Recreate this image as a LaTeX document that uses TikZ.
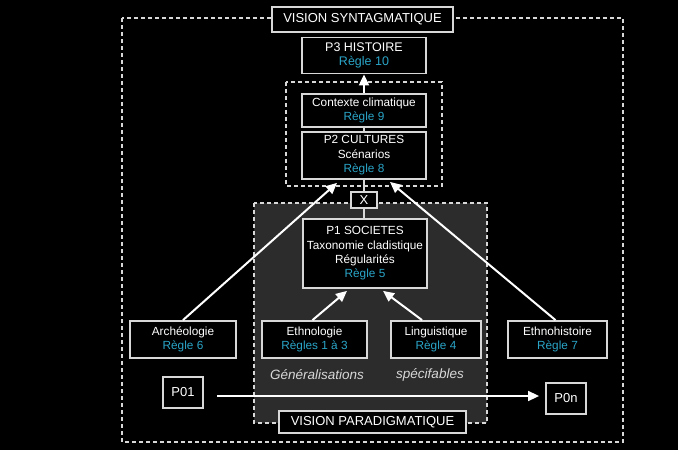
\documentclass[tikz,border=0pt]{standalone}
\usepackage{fontspec}
\setmainfont{Liberation Sans}
\usetikzlibrary{arrows.meta}
\definecolor{rulec}{HTML}{2AA5C8}
\definecolor{edgec}{HTML}{D8D8D8}
\definecolor{grayreg}{HTML}{2C2C2C}
\newcommand{\rg}[1]{\textcolor{rulec}{#1}}
\tikzset{
  box/.style={draw=edgec, line width=1.8pt, fill=black, text=white, align=center,
    inner sep=0pt, font=\fontsize{11.8}{14.4}\selectfont},
  title/.style={box, font=\fontsize{13}{15}\selectfont},
  dashbox/.style={draw=edgec, line width=1.5pt, dash pattern=on 4pt off 3pt},
  arr/.style={draw=white, line width=2pt, -{Triangle[length=11pt,width=10pt]}},
  link/.style={draw=edgec, line width=1.8pt},
  note/.style={text=edgec, font=\fontsize{13.5}{15}\selectfont\itshape}
}
\begin{document}
\begin{tikzpicture}[x=1pt,y=-1pt]
\useasboundingbox (0,0) rectangle (678,450);
\fill[black] (0,0) rectangle (678,450);
% outer dashed frame
\draw[dashbox] (122,18) rectangle (623,442);
% paradigmatic region
\filldraw[dashbox, fill=grayreg] (254,203) rectangle (487,423);
% dashed box around context + P2
\draw[dashbox] (286,82) rectangle (442,186);

% nodes
\node[title, minimum width=181pt, minimum height=25pt] (vs) at (362.5,19.5) {VISION SYNTAGMATIQUE};
\node[box, minimum width=124pt, minimum height=36pt, font=\fontsize{12.5}{14.6}\selectfont] (p3) at (364,55.5) {P3 HISTOIRE\\\rg{Règle 10}};
\node[box, minimum width=124pt, minimum height=33pt] (ctx) at (364,110.5) {Contexte climatique\\\rg{Règle 9}};
\node[box, minimum width=124pt, minimum height=47pt] (p2) at (364,155.5) {P2 CULTURES\\Scénarios\\\rg{Règle 8}};
\node[title, minimum width=26pt, minimum height=16pt] (x) at (364,200) {X};
\node[box, minimum width=124pt, minimum height=69pt] (p1) at (365,253.5) {P1 SOCIETES\\Taxonomie cladistique\\Régularités\\\rg{Règle 5}};
\node[box, minimum width=106pt, minimum height=37pt] (arch) at (183,339.5) {Archéologie\\\rg{Règle 6}};
\node[box, minimum width=105pt, minimum height=37pt] (ethno) at (314.5,339.5) {Ethnologie\\\rg{Règles 1 à 3}};
\node[box, minimum width=90pt, minimum height=37pt] (ling) at (436,339.5) {Linguistique\\\rg{Règle 4}};
\node[box, minimum width=99pt, minimum height=37pt] (ethh) at (557.5,339.5) {Ethnohistoire\\\rg{Règle 7}};
\node[title, minimum width=40pt, minimum height=31pt] (p01) at (183,392.5) {P01};
\node[title, minimum width=40pt, minimum height=31pt] (p0n) at (566,398.5) {P0n};
\node[title, minimum width=187pt, minimum height=22pt] (vp) at (372.5,422) {VISION PARADIGMATIQUE};
\node[note] (gen) at (317,375) {Généralisations};
\node[note] (spec) at (430,375) {spécifables};

% connectors
\draw[arr] (ctx.north) -- (p3.south);
\draw[link] (ctx.south) -- (p2.north);
\draw[link] (p2.south) -- (x.north);
\draw[link] (x.south) -- ([xshift=-1pt]p1.north);
\draw[arr] (arch.north) -- ([xshift=-27pt,yshift=-3pt]p2.south);
\draw[arr] ([xshift=-2pt]ethh.north) -- ([xshift=26pt,yshift=-2pt]p2.south);
\draw[arr] ([xshift=-2pt]ethno.north) -- ([xshift=-18pt,yshift=-2pt]p1.south);
\draw[arr] ([xshift=-14pt]ling.north) -- ([xshift=18pt,yshift=-2pt]p1.south);
\coordinate (a01) at (217,396);
\draw[arr, line width=1.6pt] (a01) -- ([xshift=-6pt]a01 -| p0n.west);
\end{tikzpicture}
\end{document}
